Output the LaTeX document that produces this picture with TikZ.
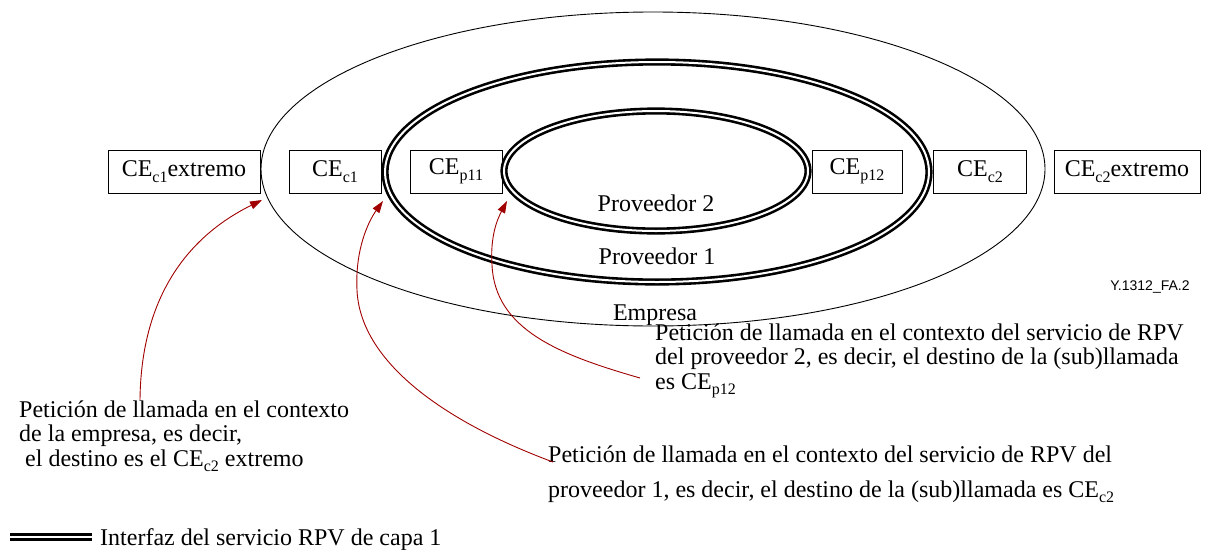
\documentclass[tikz,border=0pt]{standalone}
\usepackage{fontspec}
\setmainfont{Liberation Serif}
\newfontfamily\labsans{Liberation Sans}
\usetikzlibrary{arrows.meta,shapes.geometric}
\definecolor{arrred}{RGB}{160,0,0}
\tikzset{
  txt/.style={font=\fontsize{24}{24.5}\selectfont, inner sep=0pt},
  cebox/.style={draw, line width=0.8pt, minimum height=43pt, inner sep=0pt, font=\fontsize{24}{24}\selectfont},
  thinell/.style={draw, ellipse, line width=0.9pt, inner sep=0pt},
  dblell/.style={draw, ellipse, double, line width=2.6pt, double distance=2pt, inner sep=0pt},
  arr/.style={draw=arrred, line width=0.9pt, -{Triangle[length=12pt,width=8pt]}, arrred},
}
\newcommand{\ce}[1]{CE\raisebox{-5.5pt}{\fontsize{16}{16}\selectfont #1}}
\begin{document}
\begin{tikzpicture}[x=1pt,y=-1pt]
\useasboundingbox (0,0) rectangle (1209,549);
% ellipses
\node[thinell, minimum width=784pt, minimum height=314pt] (emp) at (653,169) {};
\node[dblell, minimum width=544pt, minimum height=220pt] (pv1) at (657,172) {};
\node[dblell, minimum width=304pt, minimum height=120pt] (pv2) at (656,171) {};
% boxes
\node[cebox, minimum width=152pt] (ce1x) at (184,171.5) {\ce{c1}extremo};
\node[cebox, minimum width=92pt] (ce1) at (335,171.5) {\ce{c1}};
\node[cebox, minimum width=92pt] (cep11) at (456,171.5) {\ce{p11}};
\node[cebox, minimum width=90pt] (cep12) at (857,171.5) {\ce{p12}};
\node[cebox, minimum width=93pt] (ce2) at (980,171.5) {\ce{c2}};
\node[cebox, minimum width=146pt] (ce2x) at (1127,171.5) {\ce{c2}extremo};
% labels
\node[txt, anchor=base] (lp2) at (656,211) {Proveedor 2};
\node[txt, anchor=base] (lp1) at (657,264) {Proveedor 1};
\node[txt, anchor=base] (lemp) at (655,320) {Empresa};
\node[inner sep=0pt, font=\labsans\fontsize{14}{16}\selectfont] (fig) at (1150,287) {Y.1312\_FA.2};
% texts (anchored at the baseline of the last line)
\node[txt, anchor=base west, align=left] (t1) at (19,466) {Petición de llamada en el contexto\\de la empresa, es decir,\\\ el destino es el \ce{c2} extremo};
\node[txt, anchor=base west, align=left, font=\fontsize{24}{35}\selectfont] (t2) at (548,497) {Petición de llamada en el contexto del servicio de RPV del\\proveedor 1, es decir, el destino de la (sub)llamada es \ce{c2}};
\node[txt, anchor=base west, align=left] (t3) at (655,389) {Petición de llamada en el contexto del servicio de RPV\\del proveedor 2, es decir, el destino de la (sub)llamada\\es \ce{p12}};
% arrow ends
\coordinate (s1) at (140,400);
\coordinate (e1) at (262,200);
\coordinate (s2) at (553,462);
\coordinate (e2) at (383,201);
\coordinate (s3) at (640,378);
\coordinate (e3) at (507,201);
\draw[arr] (s1) .. controls (141,300) and (185,238) .. (e1);
\draw[arr] (s2) .. controls (440,420) and (360,360) .. (357,290) .. controls (355,250) and (368,222) .. (e2);
\draw[arr] (s3) .. controls (560,355) and (495,330) .. (492,265) .. controls (490,235) and (498,218) .. (e3);
% legend
\coordinate (la) at (10,537);
\coordinate (lb) at (92,537);
\draw[double, line width=2.6pt, double distance=2pt] (la) -- (lb);
\node[txt, anchor=base west] (leg) at (100,545) {Interfaz del servicio RPV de capa 1};
\end{tikzpicture}
\end{document}
